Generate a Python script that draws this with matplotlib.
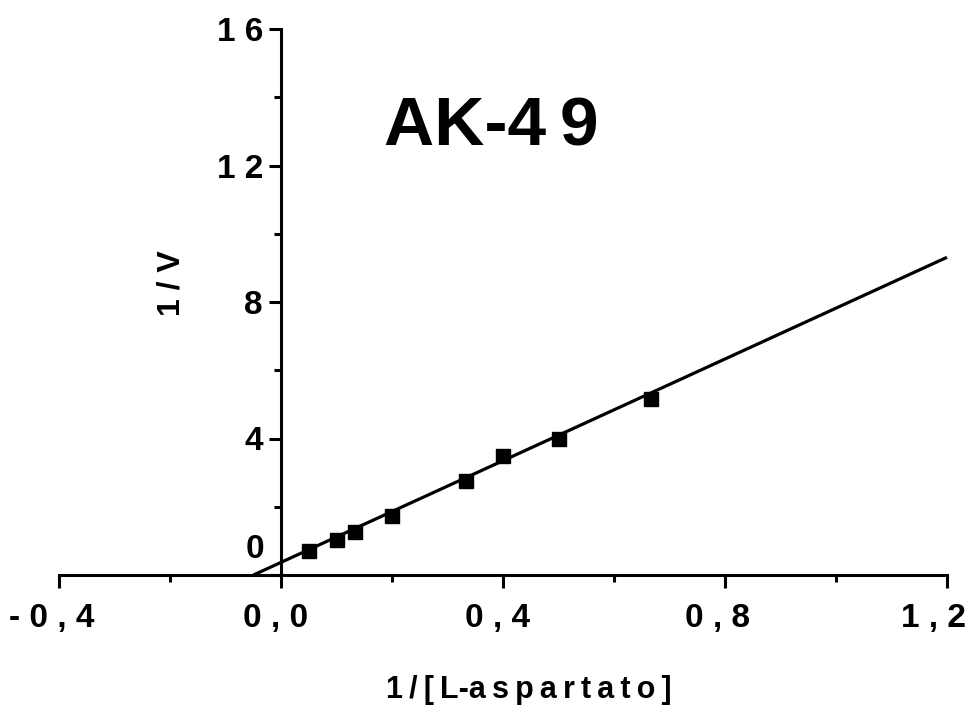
import numpy as np
import matplotlib
matplotlib.use("Agg")
import matplotlib.pyplot as plt
from matplotlib.ticker import MultipleLocator
from matplotlib.transforms import ScaledTranslation

plt.rcParams['font.family'] = ['Liberation Sans', 'DejaVu Sans']
plt.rcParams['font.weight'] = 'bold'

# double reciprocal data (Lineweaver-Burk)
inv_conc = [0.05, 0.10, 0.133, 0.20, 0.333, 0.40, 0.50, 0.667]
inv_rate = [0.70, 1.02, 1.26, 1.73, 2.75, 3.48, 3.98, 5.15]

# regression line
fit_slope = 7.45
fit_intercept = 0.37

x_ticks = [-0.4, 0.0, 0.4, 0.8, 1.2]
x_ticklabels = ['- 0 , 4', '0 , 0', '0 , 4', '0 , 8', '1 , 2']
x_label_shift = [-7, -5, -6, -8, -14]  # pixels
y_ticks = [0, 4, 8, 12, 16]
y_ticklabels = ['', '4', '8', '1 2', '1 6']

fig = plt.figure(figsize=(9.73, 7.08), dpi=100)
ax = fig.add_axes([59 / 973, 1 - 575 / 708, 888 / 973, 546 / 708])

x_start = -fit_intercept / fit_slope
x_line = np.array([x_start, 1.2])
ax.plot(x_line, fit_intercept + fit_slope * x_line, color='black', lw=2.3,
        clip_on=False, solid_capstyle='butt')
ax.plot(inv_conc, inv_rate, linestyle='none', marker='s', ms=10,
        color='black', clip_on=False)

ax.set_xlim(-0.4, 1.2)
ax.set_ylim(0, 16)

for side in ['top', 'right']:
    ax.spines[side].set_visible(False)
ax.spines['left'].set_position(('data', 0))
ax.spines['left'].set_linewidth(2.2)
ax.spines['bottom'].set_linewidth(2.2)

ax.set_xticks(x_ticks)
ax.set_xticklabels(x_ticklabels)
ax.xaxis.set_minor_locator(MultipleLocator(0.2))
ax.set_yticks(y_ticks)
ax.set_yticklabels(y_ticklabels)
ax.yaxis.set_minor_locator(MultipleLocator(2))

ax.tick_params(axis='both', which='major', direction='out', length=9,
               width=2.2, labelsize=24)
ax.tick_params(axis='both', which='minor', direction='out', length=5,
               width=2.2)
ax.tick_params(axis='x', which='major', pad=11)
ax.tick_params(axis='y', which='major', pad=4)

for lab, dx in zip(ax.get_xticklabels(), x_label_shift):
    lab.set_transform(lab.get_transform()
                      + ScaledTranslation(dx / 100, 0, fig.dpi_scale_trans))

# zero label sits above the x axis
ax.annotate('0', xy=(0, 0), xycoords='data', xytext=(-17, 26),
            textcoords='offset pixels', ha='right', va='center',
            fontsize=24, fontweight='bold')

ax.text(0.127, 0.535, '1 / V', transform=ax.transAxes, rotation=90,
        ha='center', va='center', fontsize=23, fontweight='bold')

fig.text(529 / 973, 1 - 690 / 708,
         '1\u2009/\u2009[\u2009L-a\u2009s\u2009p\u2009a\u2009r\u2009t\u2009a\u2009t\u2009o\u2009]',
         ha='center', va='center', fontsize=22, fontweight='bold')

fig.text(491 / 973, 1 - 128 / 708, 'AK-4\u20099', ha='center', va='center',
         fontsize=50, fontweight='bold')

fig.savefig('out.png', dpi=100)
